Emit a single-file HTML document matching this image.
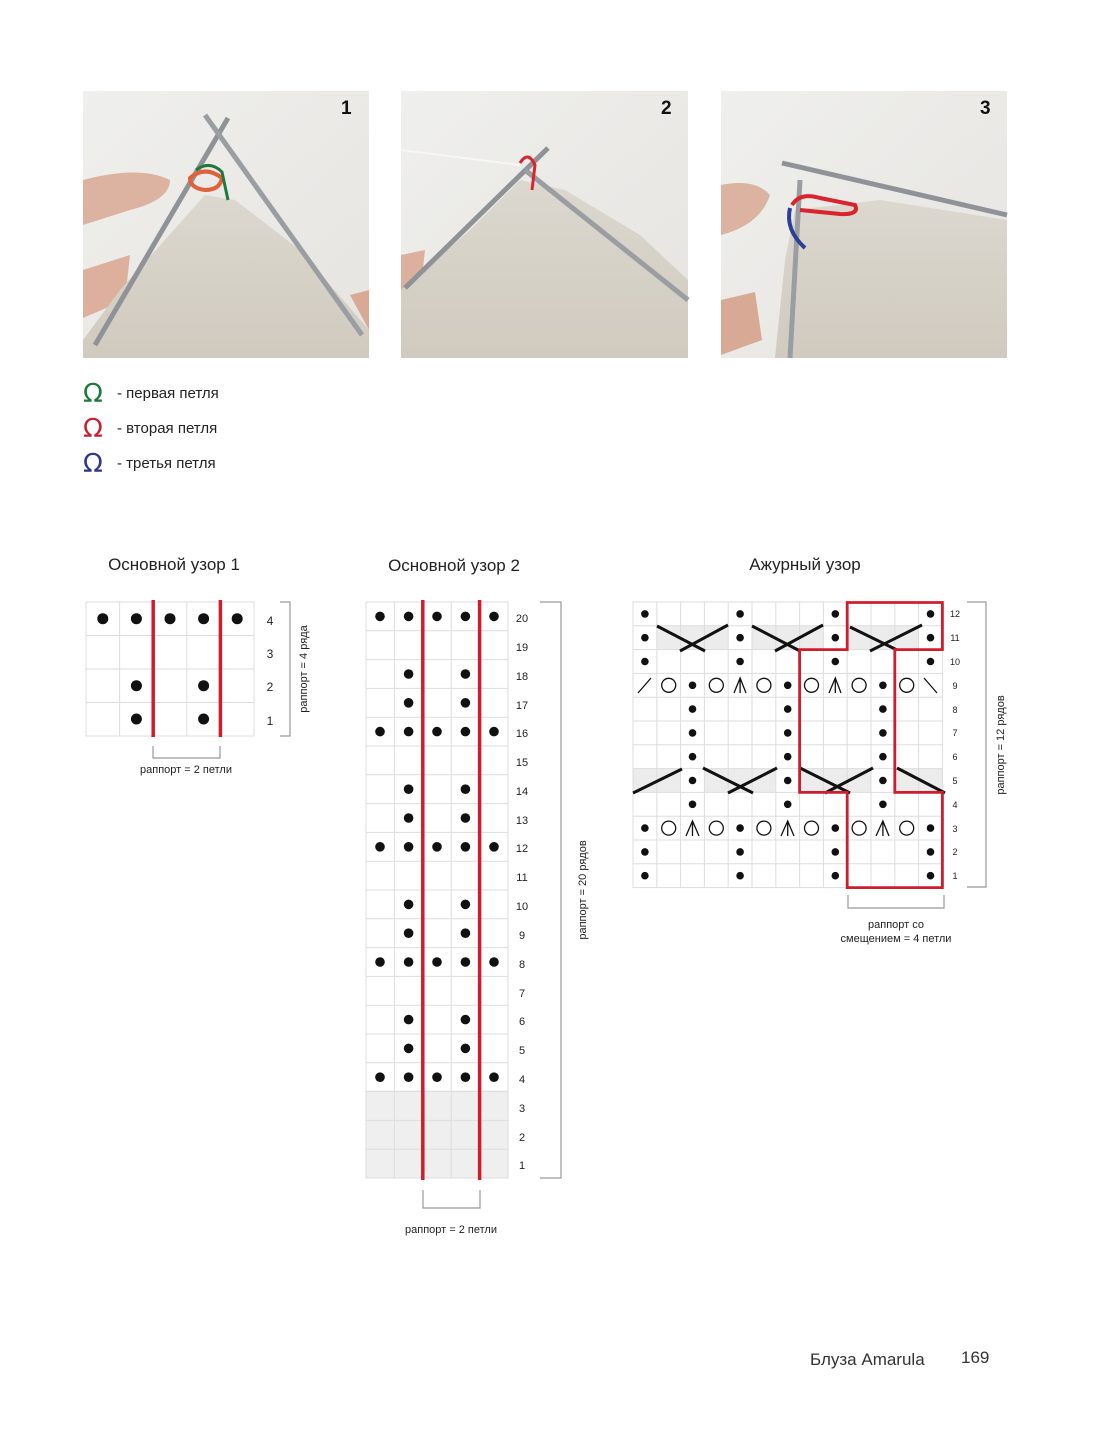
<!DOCTYPE html>
<html><head><meta charset="utf-8"><style>
html,body{margin:0;padding:0;background:#fff}
body{width:1107px;height:1439px;overflow:hidden}
svg{display:block}
text{font-family:"Liberation Sans",sans-serif;fill:#222}
</style></head><body>
<svg width="1107" height="1439" viewBox="0 0 1107 1439" xmlns="http://www.w3.org/2000/svg">
<defs>
<linearGradient id="bg" x1="0" y1="0" x2="1" y2="1"><stop offset="0" stop-color="#efefed"/><stop offset="1" stop-color="#e6e4e0"/></linearGradient>
<linearGradient id="kn" x1="0" y1="0" x2="0" y2="1"><stop offset="0" stop-color="#dcd8cf"/><stop offset="1" stop-color="#d0cabf"/></linearGradient>
</defs>
<!-- photo 1 -->
<rect x="83" y="91" width="286" height="267" fill="url(#bg)"/>
<path d="M83 180 Q140 165 170 180 Q170 200 130 210 L83 225Z" fill="#dcb2a0"/>
<path d="M83 270 L130 255 L125 300 L83 318Z" fill="#dcb09c"/>
<path d="M350 295 L369 290 L369 330Z" fill="#d8aa96"/>
<path d="M205 195 L235 200 L300 250 L369 330 L369 358 L83 358 L83 340 L120 290Z" fill="url(#kn)"/>
<line x1="228" y1="118" x2="95" y2="345" stroke="#8f9297" stroke-width="5"/>
<line x1="205" y1="115" x2="362" y2="335" stroke="#9a9da2" stroke-width="5"/>
<path d="M190 178 Q205 165 222 178 Q220 190 205 190 Q190 188 190 178Z" fill="none" stroke="#e0623a" stroke-width="4"/>
<path d="M196 170 Q210 160 222 172 L228 200" fill="none" stroke="#1d7a3a" stroke-width="3"/>
<text x="341" y="114" font-size="19" font-weight="bold" style="fill:#111">1</text>
<!-- photo 2 -->
<rect x="401" y="91" width="287" height="267" fill="url(#bg)"/>
<path d="M401 255 L425 250 L420 295 L401 305Z" fill="#dcb09c"/>
<path d="M520 180 L565 190 L640 235 L688 280 L688 358 L401 358 L401 290 L470 230Z" fill="url(#kn)"/>
<line x1="548" y1="148" x2="405" y2="288" stroke="#8f9297" stroke-width="5"/>
<line x1="525" y1="170" x2="688" y2="300" stroke="#9a9da2" stroke-width="5"/>
<line x1="401" y1="150" x2="520" y2="165" stroke="#f7f6f2" stroke-width="2"/>
<path d="M520 163 Q528 150 535 165 L532 190" fill="none" stroke="#d9232d" stroke-width="3"/>
<text x="661" y="114" font-size="19" font-weight="bold" style="fill:#111">2</text>
<!-- photo 3 -->
<rect x="721" y="91" width="286" height="267" fill="url(#bg)"/>
<path d="M721 185 Q755 178 770 195 Q760 225 721 235Z" fill="#dcb2a0"/>
<path d="M721 300 L755 292 L762 340 L721 355Z" fill="#d8aa96"/>
<path d="M795 210 L880 200 L1007 220 L1007 358 L775 358 L785 260Z" fill="url(#kn)"/>
<line x1="782" y1="163" x2="1007" y2="215" stroke="#8f9297" stroke-width="5"/>
<line x1="800" y1="180" x2="790" y2="358" stroke="#9a9da2" stroke-width="5"/>
<path d="M792 205 Q800 192 820 198 L855 205 Q860 215 840 214 L800 210" fill="none" stroke="#d9232d" stroke-width="4"/>
<path d="M790 208 Q785 230 805 248" fill="none" stroke="#2b3f96" stroke-width="4"/>
<text x="980" y="114" font-size="19" font-weight="bold" style="fill:#111">3</text>
<!-- legend -->
<g font-size="26">
<text x="83" y="402" style="fill:#1a7a3a;font-family:'DejaVu Sans',sans-serif">Ω</text>
<text x="83" y="437" style="fill:#c8202e;font-family:'DejaVu Sans',sans-serif">Ω</text>
<text x="83" y="472" style="fill:#2c3590;font-family:'DejaVu Sans',sans-serif">Ω</text>
</g>
<g font-size="15">
<text x="117" y="398">- первая петля</text>
<text x="117" y="433">- вторая петля</text>
<text x="117" y="468">- третья петля</text>
</g>
<!-- titles -->
<g font-size="17" text-anchor="middle">
<text x="174" y="570">Основной узор 1</text>
<text x="454" y="571">Основной узор 2</text>
<text x="805" y="570">Ажурный узор</text>
</g>

<!-- chart 1 -->
<g stroke="#ddd" stroke-width="1" fill="none">
<rect x="86" y="602" width="168" height="134"/>
<line x1="119.6" y1="602" x2="119.6" y2="736"/><line x1="186.8" y1="602" x2="186.8" y2="736"/>
<line x1="86" y1="635.5" x2="254" y2="635.5"/><line x1="86" y1="669" x2="254" y2="669"/><line x1="86" y1="702.5" x2="254" y2="702.5"/>
</g>
<g fill="#111">
<circle cx="102.8" cy="618.7" r="5.5"/><circle cx="136.4" cy="618.7" r="5.5"/><circle cx="170" cy="618.7" r="5.5"/><circle cx="203.6" cy="618.7" r="5.5"/><circle cx="237.2" cy="618.7" r="5.5"/>
<circle cx="136.4" cy="685.7" r="5.5"/><circle cx="203.6" cy="685.7" r="5.5"/>
<circle cx="136.4" cy="719" r="5.5"/><circle cx="203.6" cy="719" r="5.5"/>
</g>
<g stroke="#d01c2c" stroke-width="3.5"><line x1="153.2" y1="600" x2="153.2" y2="737"/><line x1="220.4" y1="600" x2="220.4" y2="737"/></g>
<g font-size="12" text-anchor="middle"><text x="270" y="625">4</text><text x="270" y="658">3</text><text x="270" y="691">2</text><text x="270" y="725">1</text></g>
<path d="M280 602 H290 V736 H280" fill="none" stroke="#999" stroke-width="1.2"/>
<text x="0" y="0" font-size="11" text-anchor="middle" transform="translate(307,669) rotate(-90)">раппорт = 4 ряда</text>
<path d="M153 746 V758 H220 V746" fill="none" stroke="#999" stroke-width="1.2"/>
<text x="186" y="773" font-size="11" text-anchor="middle">раппорт = 2 петли</text>

<!-- chart 2 -->
<rect x="366" y="1090.4" width="142" height="87.6" fill="#efefef"/>
<g stroke="#ddd" stroke-width="1" fill="none">
<rect x="366" y="602" width="142" height="576"/>
<line x1="394.4" y1="602" x2="394.4" y2="1178"/><line x1="451.2" y1="602" x2="451.2" y2="1178"/>
<path d="M366 630.8H508M366 659.6H508M366 688.4H508M366 717.2H508M366 746H508M366 774.8H508M366 803.6H508M366 832.4H508M366 861.2H508M366 890H508M366 918.8H508M366 947.6H508M366 976.4H508M366 1005.2H508M366 1034H508M366 1062.8H508M366 1091.6H508M366 1120.4H508M366 1149.2H508"/>
</g>
<g fill="#111">
<circle cx="380" cy="616.4" r="4.8"/><circle cx="408.6" cy="616.4" r="4.8"/><circle cx="437" cy="616.4" r="4.8"/><circle cx="465.4" cy="616.4" r="4.8"/><circle cx="494" cy="616.4" r="4.8"/>
<circle cx="408.6" cy="674" r="4.8"/><circle cx="465.4" cy="674" r="4.8"/>
<circle cx="408.6" cy="702.8" r="4.8"/><circle cx="465.4" cy="702.8" r="4.8"/>
<circle cx="380" cy="731.6" r="4.8"/><circle cx="408.6" cy="731.6" r="4.8"/><circle cx="437" cy="731.6" r="4.8"/><circle cx="465.4" cy="731.6" r="4.8"/><circle cx="494" cy="731.6" r="4.8"/>
<circle cx="408.6" cy="789.2" r="4.8"/><circle cx="465.4" cy="789.2" r="4.8"/>
<circle cx="408.6" cy="818" r="4.8"/><circle cx="465.4" cy="818" r="4.8"/>
<circle cx="380" cy="846.8" r="4.8"/><circle cx="408.6" cy="846.8" r="4.8"/><circle cx="437" cy="846.8" r="4.8"/><circle cx="465.4" cy="846.8" r="4.8"/><circle cx="494" cy="846.8" r="4.8"/>
<circle cx="408.6" cy="904.4" r="4.8"/><circle cx="465.4" cy="904.4" r="4.8"/>
<circle cx="408.6" cy="933.2" r="4.8"/><circle cx="465.4" cy="933.2" r="4.8"/>
<circle cx="380" cy="962" r="4.8"/><circle cx="408.6" cy="962" r="4.8"/><circle cx="437" cy="962" r="4.8"/><circle cx="465.4" cy="962" r="4.8"/><circle cx="494" cy="962" r="4.8"/>
<circle cx="408.6" cy="1019.6" r="4.8"/><circle cx="465.4" cy="1019.6" r="4.8"/>
<circle cx="408.6" cy="1048.4" r="4.8"/><circle cx="465.4" cy="1048.4" r="4.8"/>
<circle cx="380" cy="1077.2" r="4.8"/><circle cx="408.6" cy="1077.2" r="4.8"/><circle cx="437" cy="1077.2" r="4.8"/><circle cx="465.4" cy="1077.2" r="4.8"/><circle cx="494" cy="1077.2" r="4.8"/>
</g>
<g stroke="#d01c2c" stroke-width="3.5"><line x1="422.8" y1="600" x2="422.8" y2="1180"/><line x1="479.6" y1="600" x2="479.6" y2="1180"/></g>
<g font-size="11" text-anchor="middle">
<text x="522" y="622">20</text><text x="522" y="651">19</text><text x="522" y="680">18</text><text x="522" y="709">17</text><text x="522" y="737">16</text><text x="522" y="766">15</text><text x="522" y="795">14</text><text x="522" y="824">13</text><text x="522" y="852">12</text><text x="522" y="881">11</text><text x="522" y="910">10</text><text x="522" y="939">9</text><text x="522" y="968">8</text><text x="522" y="997">7</text><text x="522" y="1025">6</text><text x="522" y="1054">5</text><text x="522" y="1083">4</text><text x="522" y="1112">3</text><text x="522" y="1141">2</text><text x="522" y="1169">1</text>
</g>
<path d="M540 602 H561 V1178 H540" fill="none" stroke="#999" stroke-width="1.2"/>
<text x="0" y="0" font-size="11" text-anchor="middle" transform="translate(586,890) rotate(-90)">раппорт = 20 рядов</text>
<path d="M423 1190 V1208 H480 V1190" fill="none" stroke="#999" stroke-width="1.2"/>
<text x="451" y="1233" font-size="11" text-anchor="middle">раппорт = 2 петли</text>

<!-- chart 3 -->
<g fill="#ececec">
<rect x="656.8" y="625.8" width="71.4" height="23.8"/><rect x="752" y="625.8" width="71.4" height="23.8"/><rect x="847.2" y="625.8" width="71.4" height="23.8"/>
<rect x="633" y="768.6" width="47.6" height="23.8"/><rect x="704.4" y="768.6" width="71.4" height="23.8"/><rect x="799.6" y="768.6" width="71.4" height="23.8"/><rect x="894.8" y="768.6" width="47.6" height="23.8"/>
</g>
<g stroke="#ddd" stroke-width="1" fill="none">
<rect x="633" y="602" width="309.4" height="285.6"/>
<path d="M656.8 602V887.6M680.6 602V887.6M704.4 602V887.6M728.2 602V887.6M752 602V887.6M775.8 602V887.6M799.6 602V887.6M823.4 602V887.6M847.2 602V887.6M871 602V887.6M894.8 602V887.6M918.6 602V887.6"/>
<path d="M633 625.8H942.4M633 649.6H942.4M633 673.4H942.4M633 697.2H942.4M633 721H942.4M633 744.8H942.4M633 768.6H942.4M633 792.4H942.4M633 816.2H942.4M633 840H942.4M633 863.8H942.4"/>
</g>
<g fill="#111">
<circle cx="644.9" cy="613.9" r="3.8"/><circle cx="740.1" cy="613.9" r="3.8"/><circle cx="835.3" cy="613.9" r="3.8"/><circle cx="930.5" cy="613.9" r="3.8"/>
<circle cx="644.9" cy="637.7" r="3.8"/><circle cx="740.1" cy="637.7" r="3.8"/><circle cx="835.3" cy="637.7" r="3.8"/><circle cx="930.5" cy="637.7" r="3.8"/>
<circle cx="644.9" cy="661.5" r="3.8"/><circle cx="740.1" cy="661.5" r="3.8"/><circle cx="835.3" cy="661.5" r="3.8"/><circle cx="930.5" cy="661.5" r="3.8"/>
<circle cx="644.9" cy="851.9" r="3.8"/><circle cx="740.1" cy="851.9" r="3.8"/><circle cx="835.3" cy="851.9" r="3.8"/><circle cx="930.5" cy="851.9" r="3.8"/>
<circle cx="644.9" cy="875.7" r="3.8"/><circle cx="740.1" cy="875.7" r="3.8"/><circle cx="835.3" cy="875.7" r="3.8"/><circle cx="930.5" cy="875.7" r="3.8"/>
<circle cx="692.5" cy="685.3" r="3.8"/><circle cx="787.7" cy="685.3" r="3.8"/><circle cx="882.9" cy="685.3" r="3.8"/>
<circle cx="692.5" cy="709.1" r="3.8"/><circle cx="787.7" cy="709.1" r="3.8"/><circle cx="882.9" cy="709.1" r="3.8"/>
<circle cx="692.5" cy="732.9" r="3.8"/><circle cx="787.7" cy="732.9" r="3.8"/><circle cx="882.9" cy="732.9" r="3.8"/>
<circle cx="692.5" cy="756.7" r="3.8"/><circle cx="787.7" cy="756.7" r="3.8"/><circle cx="882.9" cy="756.7" r="3.8"/>
<circle cx="692.5" cy="780.5" r="3.8"/><circle cx="787.7" cy="780.5" r="3.8"/><circle cx="882.9" cy="780.5" r="3.8"/>
<circle cx="692.5" cy="804.3" r="3.8"/><circle cx="787.7" cy="804.3" r="3.8"/><circle cx="882.9" cy="804.3" r="3.8"/>
<circle cx="644.9" cy="828.1" r="3.8"/><circle cx="740.1" cy="828.1" r="3.8"/><circle cx="835.3" cy="828.1" r="3.8"/><circle cx="930.5" cy="828.1" r="3.8"/>
</g>
<g fill="none" stroke="#111" stroke-width="1.3">
<circle cx="668.7" cy="685.3" r="7"/><circle cx="716.3" cy="685.3" r="7"/><circle cx="763.9" cy="685.3" r="7"/><circle cx="811.5" cy="685.3" r="7"/><circle cx="859.1" cy="685.3" r="7"/><circle cx="906.7" cy="685.3" r="7"/>
<path d="M734 693 L740.1 678 L746 693 M740.1 678 V693 M829 693 L835.3 678 L841 693 M835.3 678 V693"/>
<path d="M638 693 L651 678 M924 678 L937 693"/>
<circle cx="668.7" cy="828.1" r="7"/><circle cx="716.3" cy="828.1" r="7"/><circle cx="763.9" cy="828.1" r="7"/><circle cx="811.5" cy="828.1" r="7"/><circle cx="859.1" cy="828.1" r="7"/><circle cx="906.7" cy="828.1" r="7"/>
<path d="M686 836 L692.5 821 L699 836 M692.5 821 V836 M781 836 L787.7 821 L794 836 M787.7 821 V836 M876 836 L882.9 821 L889 836 M882.9 821 V836"/>
</g>
<g stroke="#111" stroke-width="3" stroke-linecap="butt">
<line x1="657" y1="626" x2="705" y2="651"/><line x1="680" y1="651" x2="728" y2="625"/>
<line x1="752" y1="626" x2="800" y2="651"/><line x1="775" y1="651" x2="823" y2="625"/>
<line x1="850" y1="627" x2="897" y2="650"/><line x1="870" y1="651" x2="922" y2="625"/>
<line x1="633" y1="793" x2="682" y2="769"/>
<line x1="703" y1="768" x2="753" y2="793"/><line x1="728" y1="793" x2="777" y2="768"/>
<line x1="800" y1="768" x2="850" y2="793"/><line x1="825" y1="793" x2="873" y2="768"/>
<line x1="897" y1="768" x2="945" y2="793"/>
</g>
<path d="M847.2 602.5 H942.4 V649.6 H894.8 V792.4 H942.4 V887.6 H847.2 V792.4 H799.6 V649.6 H847.2 Z" fill="none" stroke="#d01c2c" stroke-width="2.8"/>
<g font-size="9" text-anchor="middle">
<text x="955" y="617">12</text><text x="955" y="641">11</text><text x="955" y="665">10</text><text x="955" y="689">9</text><text x="955" y="713">8</text><text x="955" y="736">7</text><text x="955" y="760">6</text><text x="955" y="784">5</text><text x="955" y="808">4</text><text x="955" y="832">3</text><text x="955" y="855">2</text><text x="955" y="879">1</text>
</g>
<path d="M967 602 H986 V887 H967" fill="none" stroke="#999" stroke-width="1.2"/>
<text x="0" y="0" font-size="11" text-anchor="middle" transform="translate(1004,745) rotate(-90)">раппорт = 12 рядов</text>
<path d="M848 895 V908 H944 V895" fill="none" stroke="#999" stroke-width="1.2"/>
<text x="896" y="928" font-size="11" text-anchor="middle">раппорт со</text>
<text x="896" y="942" font-size="11" text-anchor="middle">смещением = 4 петли</text>

<!-- footer -->
<text x="810" y="1365" font-size="17" style="fill:#333">Блуза Amarula</text>
<text x="961" y="1363" font-size="17" style="fill:#333">169</text>
</svg>
</body></html>
